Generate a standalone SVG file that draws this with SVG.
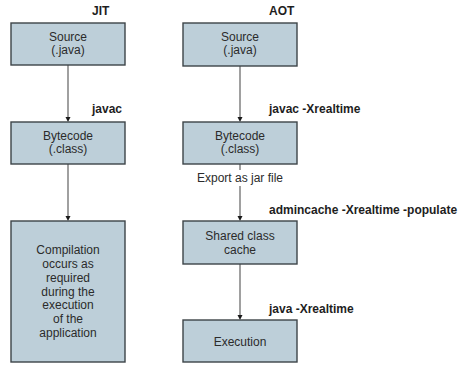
<svg xmlns="http://www.w3.org/2000/svg" width="458" height="373" viewBox="0 0 458 373">
<style>
.box{fill:#bdcfd9;stroke:#3d4448;stroke-width:1.4}
.t{font-family:"Liberation Sans",Arial,sans-serif;font-size:12px;fill:#2b2b2b;text-anchor:middle}
.l{font-family:"Liberation Sans",Arial,sans-serif;font-size:12px;font-weight:bold;fill:#1e1e1e}
.c{stroke:#808080;stroke-width:1.5;fill:none}
.h{fill:#1a1a1a}
</style>
<rect width="458" height="373" fill="#fff"/>
<text class="l" x="92" y="15">JIT</text>
<text class="l" x="269" y="15">AOT</text>
<g id="connectors">
<line class="c" x1="68" y1="65" x2="68" y2="118"/><path class="h" d="M65.5,117 L70.5,117 L68,122 Z"/>
<line class="c" x1="68" y1="164" x2="68" y2="217"/><path class="h" d="M65.5,216 L70.5,216 L68,221 Z"/>
<line class="c" x1="240" y1="66" x2="240" y2="118"/><path class="h" d="M237.5,117 L242.5,117 L240,122 Z"/>
<line class="c" x1="240" y1="164" x2="240" y2="170"/>
<line class="c" x1="240" y1="186" x2="240" y2="217"/><path class="h" d="M237.5,216 L242.5,216 L240,221 Z"/>
<line class="c" x1="240" y1="264" x2="240" y2="316"/><path class="h" d="M237.5,315 L242.5,315 L240,320 Z"/>
<text class="l" x="92" y="113">javac</text>
<text class="l" x="269" y="113">javac -Xrealtime</text>
<text class="t" x="240" y="182">Export as jar file</text>
<text class="l" x="269" y="214">admincache -Xrealtime -populate</text>
<text class="l" x="269" y="313">java -Xrealtime</text>
</g>
<g id="jit-source"><rect class="box" x="11" y="23" width="114" height="42"/><text class="t" x="68" y="41">Source</text><text class="t" x="68" y="54">(.java)</text></g>
<g id="jit-bytecode"><rect class="box" x="11" y="122" width="114" height="42"/><text class="t" x="68" y="140">Bytecode</text><text class="t" x="68" y="153">(.class)</text></g>
<g id="jit-compilation"><rect class="box" x="11" y="221" width="114" height="141"/>
<text class="t" x="68" y="254">Compilation</text><text class="t" x="68" y="268">occurs as</text><text class="t" x="68" y="282">required</text><text class="t" x="68" y="296">during the</text><text class="t" x="68" y="309">execution</text><text class="t" x="68" y="323">of the</text><text class="t" x="68" y="337">application</text></g>
<g id="aot-source"><rect class="box" x="183" y="23" width="114" height="43"/><text class="t" x="240" y="41">Source</text><text class="t" x="240" y="54">(.java)</text></g>
<g id="aot-bytecode"><rect class="box" x="183" y="122" width="114" height="42"/><text class="t" x="240" y="140">Bytecode</text><text class="t" x="240" y="153">(.class)</text></g>
<g id="aot-shared"><rect class="box" x="183" y="221" width="114" height="43"/><text class="t" x="240" y="240">Shared class</text><text class="t" x="240" y="254">cache</text></g>
<g id="aot-execution"><rect class="box" x="183" y="320" width="114" height="42"/><text class="t" x="240" y="346">Execution</text></g>
</svg>
